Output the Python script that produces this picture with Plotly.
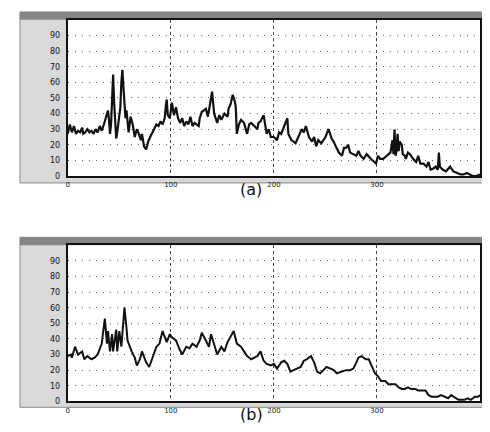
import plotly.graph_objects as go

# ---- data ----
freq_a = [0, 2, 4, 6, 8, 10, 12, 14, 15, 17, 19, 21, 23, 25, 27, 29, 31, 33, 35, 37,
          39, 40, 41, 42, 43, 44, 45, 46, 47, 48, 49, 50, 51, 52, 53, 54, 55, 56, 57, 58,
          59, 61, 63, 65, 67, 69, 71, 72, 74, 76, 78, 80, 82, 84, 86, 88, 90, 92, 94, 95,
          96, 97, 99, 100, 101, 103, 105, 107, 109, 111, 113, 115, 117, 119, 121, 123, 125, 127, 128, 130,
          132, 134, 136, 139, 140, 142, 145, 147, 149, 152, 155, 156, 158, 160, 162, 163, 164, 166, 168, 171,
          174, 176, 178, 181, 184, 185, 187, 190, 193, 195, 197, 200, 203, 205, 207, 210, 213, 214, 217, 221,
          224, 227, 229, 231, 234, 237, 239, 241, 243, 246, 250, 253, 256, 258, 260, 263, 266, 268, 270, 272,
          274, 277, 280, 282, 284, 287, 290, 294, 297, 299, 301, 303, 306, 309, 313, 315, 316, 317, 318, 319,
          320, 321, 322, 324, 325, 327, 328, 330, 332, 335, 338, 340, 342, 345, 348, 350, 352, 355, 357, 359,
          360, 361, 364, 367, 371, 374, 377, 381, 384, 387, 390, 393, 396, 400]
amp_a = [27, 33, 28, 32, 27, 29, 28, 31, 27, 28, 30, 28, 29, 27, 30, 28, 32, 29, 33, 37,
         42, 36, 27, 33, 57, 65, 47, 32, 24, 28, 33, 39, 44, 60, 68, 57, 46, 37, 42, 32,
         28, 38, 33, 25, 30, 27, 23, 27, 19, 17, 22, 25, 28, 30, 33, 32, 35, 33, 37, 44,
         49, 39, 37, 42, 47, 39, 44, 37, 34, 37, 32, 35, 33, 38, 32, 34, 33, 32, 37, 41,
         42, 43, 38, 49, 54, 40, 34, 39, 36, 40, 38, 43, 46, 52, 48, 44, 27, 33, 36, 34,
         27, 33, 34, 32, 30, 34, 35, 39, 27, 30, 25, 25, 23, 28, 27, 32, 37, 27, 23, 21,
         25, 30, 28, 32, 25, 22, 25, 19, 23, 21, 25, 30, 24, 22, 19, 15, 13, 18, 18, 20,
         15, 14, 13, 16, 13, 11, 14, 11, 9, 8, 13, 11, 11, 13, 15, 23, 14, 30, 13, 16,
         27, 16, 22, 20, 14, 13, 11, 15, 14, 11, 9, 13, 8, 8, 6, 9, 4, 5, 6, 4,
         15, 6, 4, 3, 6, 3, 2, 1, 1, 2, 1, 0, 0, 1]

freq_b = [0, 3, 4, 7, 10, 14, 16, 19, 23, 26, 29, 33, 34, 36, 38, 39, 41, 43, 44, 47,
          48, 50, 52, 53, 55, 57, 58, 62, 65, 67, 70, 72, 76, 79, 82, 86, 89, 92, 96, 99,
          101, 105, 108, 111, 115, 118, 121, 125, 128, 130, 134, 137, 139, 142, 145, 149, 152, 155, 158, 161,
          164, 168, 171, 174, 178, 181, 184, 187, 190, 193, 197, 200, 203, 207, 210, 213, 216, 219, 222, 226,
          229, 232, 236, 239, 242, 245, 248, 251, 255, 258, 261, 265, 268, 270, 274, 277, 280, 282, 285, 289,
          292, 295, 298, 301, 304, 308, 311, 314, 318, 321, 324, 327, 330, 333, 337, 340, 343, 347, 350, 353,
          356, 359, 362, 366, 369, 372, 376, 379, 382, 385, 388, 391, 395, 398, 400]
amp_b = [29, 30, 28, 35, 30, 32, 27, 29, 27, 28, 30, 37, 43, 53, 37, 45, 32, 43, 32, 46,
         32, 45, 35, 45, 60, 47, 39, 32, 28, 23, 27, 32, 25, 22, 28, 35, 37, 45, 38, 43,
         41, 39, 34, 30, 35, 34, 37, 35, 39, 44, 39, 35, 43, 37, 30, 35, 32, 38, 42, 45,
         37, 35, 32, 29, 27, 28, 29, 32, 26, 24, 23, 24, 21, 25, 26, 24, 19, 20, 21, 22,
         26, 27, 29, 25, 19, 18, 20, 22, 21, 20, 18, 19, 20, 20, 20, 21, 25, 28, 29, 27,
         27, 22, 18, 16, 13, 13, 11, 11, 11, 9, 8, 8, 9, 8, 8, 7, 7, 7, 4, 3,
         3, 3, 4, 3, 2, 4, 2, 1, 1, 1, 2, 1, 3, 3, 4]

y_ticks = [0, 10, 20, 30, 40, 50, 60, 70, 80, 90]
y_tick_text = ["0", "10", "20", "30", "40", "50", "60", "70", "80", "90"]
x_ticks = [0, 100, 200, 300]
x_tick_text = ["0", "100", "200", "300"]
captions = ["(a)", "(b)"]

W, H = 490, 432


def px(x):
    return x / W


def py(y):
    return 1 - y / H


fig = go.Figure()
fig.add_trace(go.Scatter(x=freq_a, y=amp_a, mode="lines", xaxis="x", yaxis="y",
                         line=dict(color="#111111", width=2.2), showlegend=False))
fig.add_trace(go.Scatter(x=freq_b, y=amp_b, mode="lines", xaxis="x2", yaxis="y2",
                         line=dict(color="#111111", width=2), showlegend=False))

xcommon = dict(range=[0, 400], tickvals=x_ticks, ticktext=x_tick_text,
               showgrid=True, gridcolor="#444444", griddash="dot", gridwidth=1,
               showline=True, linecolor="#111111", linewidth=2, mirror=True,
               zeroline=False, ticks="", ticklabelstandoff=1,
               tickfont=dict(size=7, color="#222222", family="DejaVu Sans"))
ycommon = dict(range=[0, 100], tickvals=y_ticks, ticktext=y_tick_text,
               showgrid=True, gridcolor="#666666", griddash="1px,6px", gridwidth=1,
               showline=True, linecolor="#111111", linewidth=2, mirror=True,
               zeroline=False, ticks="", ticklabelstandoff=4,
               tickfont=dict(size=8, color="#111111", family="DejaVu Sans"))

fig.update_layout(
    width=W, height=H, autosize=False,
    margin=dict(l=0, r=0, t=0, b=0),
    paper_bgcolor="white", plot_bgcolor="white",
    xaxis=dict(domain=[px(58), px(472)], anchor="y", **xcommon),
    yaxis=dict(domain=[py(170), py(12)], anchor="x", **ycommon),
    xaxis2=dict(domain=[px(58), px(472)], anchor="y2", **xcommon),
    yaxis2=dict(domain=[py(398), py(240)], anchor="x2", **ycommon),
)

shapes = []
for top, bottom, ptop, pbot in [(4, 177, 12, 170), (232, 404, 240, 398)]:
    # outer grey panel frame
    shapes.append(dict(type="rect", xref="paper", yref="paper", layer="below",
                       x0=px(10), x1=px(481), y0=py(bottom), y1=py(top),
                       fillcolor="#d9d9d9", line=dict(color="#8a8a8a", width=1)))
    # dark title strip along the top
    shapes.append(dict(type="rect", xref="paper", yref="paper", layer="below",
                       x0=px(10), x1=px(481), y0=py(top + 8), y1=py(top),
                       fillcolor="#858585", line=dict(width=0)))
    # white plotting area
    shapes.append(dict(type="rect", xref="paper", yref="paper", layer="below",
                       x0=px(58), x1=px(472), y0=py(pbot), y1=py(ptop),
                       fillcolor="white", line=dict(width=0)))
fig.update_layout(shapes=shapes)

fig.update_layout(annotations=[
    dict(text=captions[0], x=px(242), y=py(184), xref="paper", yref="paper",
         xanchor="center", yanchor="middle",
         showarrow=False, font=dict(size=16, color="#111111", family="DejaVu Sans")),
    dict(text=captions[1], x=px(242), y=py(411), xref="paper", yref="paper",
         xanchor="center", yanchor="middle",
         showarrow=False, font=dict(size=16, color="#111111", family="DejaVu Sans")),
])

fig.write_html("out.html")
